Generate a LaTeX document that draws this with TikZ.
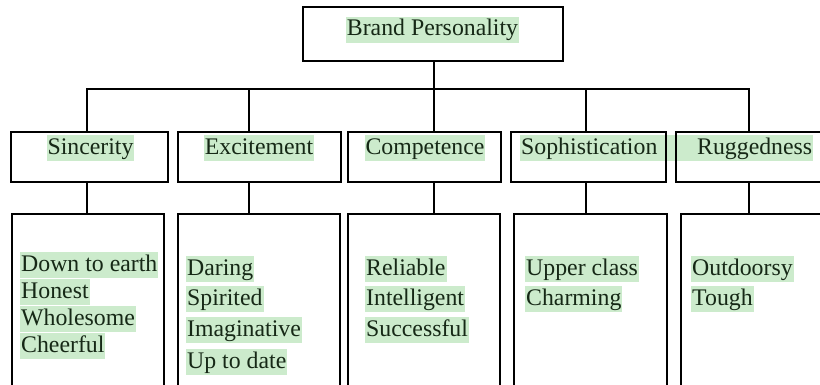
\documentclass[tikz,border=0pt]{standalone}
\usepackage{fontspec}
\setmainfont{Liberation Serif}
\definecolor{hlgreen}{RGB}{204,235,204}
\definecolor{txt}{RGB}{22,40,22}
\begin{document}
\begin{tikzpicture}[x=1pt,y=-1pt,
  box/.style={draw=black,line width=2.7pt,rectangle,inner sep=0pt},
  hl/.style={fill=hlgreen,text=txt,inner xsep=1pt,inner ysep=2pt,text height=17pt,text depth=5pt,font=\fontsize{23.8}{27}\selectfont},
  conn/.style={draw=black,line width=2.7pt}]
\useasboundingbox (0,0) rectangle (820,384);
\clip (0,0) rectangle (820,384);
% text highlights
\node[hl] (tBP) at (432.5,29.5) {Brand Personality};
\node[hl] (tS1) at (90.5,148) {Sincerity};
\node[hl] (tS2) at (259,148) {Excitement};
\node[hl] (tS3) at (425,148) {Competence};
\node[hl,anchor=west,text width=145pt,align=left] (tS4) at (520,148) {Sophistication};
\node[hl,anchor=west,text width=144pt,align=right] (tS5) at (667,148) {Ruggedness};
% list items
\node[hl,anchor=west] (a1) at (20,265) {Down to earth};
\node[hl,anchor=west] (a2) at (20,292) {Honest};
\node[hl,anchor=west] (a3) at (20,319) {Wholesome};
\node[hl,anchor=west] (a4) at (20,346) {Cheerful};
\node[hl,anchor=west] (e1) at (186,269) {Daring};
\node[hl,anchor=west] (e2) at (186,299) {Spirited};
\node[hl,anchor=west] (e3) at (186,330) {Imaginative};
\node[hl,anchor=west] (e4) at (186,362) {Up to date};
\node[hl,anchor=west] (c1) at (365,269) {Reliable};
\node[hl,anchor=west] (c2) at (365,299) {Intelligent};
\node[hl,anchor=west] (c3) at (365,330) {Successful};
\node[hl,anchor=west] (p1) at (525,269) {Upper class};
\node[hl,anchor=west] (p2) at (525,299) {Charming};
\node[hl,anchor=west] (r1) at (691,269) {Outdoorsy};
\node[hl,anchor=west] (r2) at (691,299) {Tough};
% boxes
\node[box,minimum width=260pt,minimum height=54pt] (top) at (433,34) {};
\node[box,minimum width=157pt,minimum height=50pt] (s1) at (89.5,157) {};
\node[box,minimum width=163pt,minimum height=50pt] (s2) at (259.5,157) {};
\node[box,minimum width=153pt,minimum height=50pt] (s3) at (424.5,157) {};
\node[box,minimum width=155pt,minimum height=50pt] (s4) at (588.5,157) {};
\node[box,minimum width=160pt,minimum height=50pt] (s5) at (756,157) {};
\node[box,minimum width=152pt,minimum height=172pt] (b1) at (88,300) {};
\node[box,minimum width=162pt,minimum height=172pt] (b2) at (259,300) {};
\node[box,minimum width=152pt,minimum height=172pt] (b3) at (424,300) {};
\node[box,minimum width=153pt,minimum height=172pt] (b4) at (590.5,300) {};
\node[box,minimum width=160pt,minimum height=172pt] (b5) at (761,300) {};
% connectors
\coordinate (j1) at (87,89);
\coordinate (j2) at (249,89);
\coordinate (j3) at (434,89);
\coordinate (j4) at (586,89);
\coordinate (j5) at (749,89);
\draw[conn] (j3 |- top.south) -- (j3);
\draw[conn,line cap=rect] (j1) -- (j5);
\foreach \i in {1,...,5}{
  \draw[conn] (j\i) -- (j\i |- s\i.north);
  \draw[conn] (j\i |- s\i.south) -- (j\i |- b\i.north);
}
\end{tikzpicture}
\end{document}
